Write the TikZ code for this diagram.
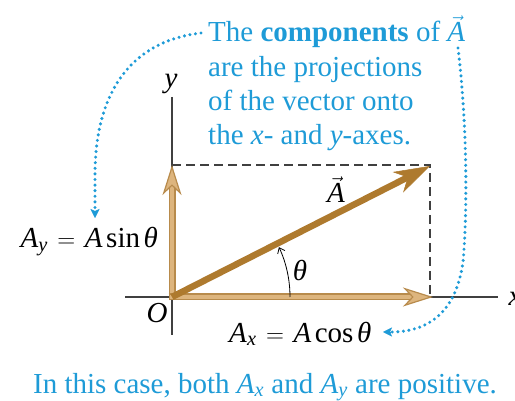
\documentclass[tikz,border=0pt]{standalone}
\usepackage{amsmath}
\usepackage{fontspec}
\setmainfont{Liberation Serif}
\usetikzlibrary{arrows.meta,calc}
\definecolor{capblue}{HTML}{1E9BD7}
\definecolor{vecbrown}{HTML}{AE7A2E}
\definecolor{tanlight}{HTML}{DDB57E}
\definecolor{tandark}{HTML}{B88B4C}
\definecolor{axisgray}{HTML}{404040}
\newcommand{\itA}{\textit{A}}
\newcommand{\eqsp}{\hspace{0.33em}$=$\hspace{0.33em}}
\tikzset{
  bigfont/.style={font=\fontsize{29}{35}\selectfont},
  bluetxt/.style={bigfont, text=capblue, inner sep=0pt},
  axisline/.style={draw=axisgray, line width=1.4pt},
  dashline/.style={draw=axisgray, line width=1.3pt, dash pattern=on 9pt off 5pt},
  dotline/.style={draw=capblue, line width=3.4pt, line cap=round, dash pattern=on 0pt off 5.6pt},
  dothead/.style={-{Stealth[length=9pt,width=9pt,inset=2pt]}},
  compshaftout/.style={draw=tandark, line width=7pt},
  compshaftin/.style={draw=tanlight, line width=4pt},
  comphead/.style={draw=tandark, line width=1.2pt, -{Stealth[length=30pt,width=19pt,inset=9pt,fill=tanlight]}},
  vecshaft/.style={draw=vecbrown, line width=6.5pt},
  vechead/.style={draw=vecbrown, fill=vecbrown, line width=0.5pt, -{Stealth[length=36pt,width=23pt,inset=11pt]}},
}
\begin{document}
\begin{tikzpicture}[x=1pt,y=-1pt]
\useasboundingbox (0,0) rectangle (515,401);
% key points
\coordinate (O) at (172,297);
\coordinate (Ytop) at (172,97);
\coordinate (Ybot) at (172,335);
\coordinate (Xl) at (125,297);
\coordinate (Xr) at (498,297);
\coordinate (Ay) at (172,165);
\coordinate (Ax) at (433,297);
\coordinate (C) at (430,165);
\coordinate (Cb) at (430,297);
\coordinate (Atip) at (430,166);
% axes
\draw[axisline] (Ytop) -- (Ybot);
\draw[axisline] (Xl) -- (Xr);
\node[bigfont, font=\fontsize{29}{35}\selectfont\itshape, anchor=base] (ylab) at (171,88) {y};
\node[bigfont, font=\fontsize{29}{35}\selectfont\itshape, anchor=base west] (xlab) at (505,306) {x};
% dashed projections
\draw[dashline] (Ay) -- (C) -- (Cb);
% components
\draw[compshaftout] ($(O)+(0,3.5)$) -- ($(Ay)+(0,20)$);
\draw[compshaftin] ($(O)+(0,2)$) -- ($(Ay)+(0,20)$);
\draw[comphead] ($(Ay)+(0,18)$) -- (Ay);
\draw[compshaftout] ($(O)+(-3.5,0)$) -- ($(Ax)+(-20,0)$);
\draw[compshaftin] ($(O)+(-2,0)$) -- ($(Ax)+(-20,0)$);
\draw[comphead] ($(Ax)+(-18,0)$) -- (Ax);
% vector A
\draw[vecshaft] (O) -- ($(Atip)!24pt!(O)$);
\draw[vechead] ($(Atip)!22pt!(O)$) -- (Atip);
\node[bigfont, anchor=base] (Alab) at (336,203) {$\vec{\itA}$};
% angle
\draw[black, line width=0.8pt, -{Straight Barb[length=5pt,width=8pt]}] ($(O)+(118,0)$) arc[start angle=0, end angle=25, radius=118pt];
\node[bigfont, anchor=base] (th) at (300,281) {\textit{θ}};
\node[bigfont, anchor=base] (Olab) at (157,323) {\textit{O}};
% component labels
\node[bigfont, anchor=base east, inner sep=0pt] (ylabel) at (158,248) {\itA$_{\textit{y}}$\eqsp\itA\hspace{0.12em}sin\hspace{0.12em}\textit{θ}};
\node[bigfont, anchor=base west, inner sep=0pt] (xlabel) at (229,342) {\itA$_{\textit{x}}$\eqsp\itA\hspace{0.12em}cos\hspace{0.12em}\textit{θ}};
% explanatory text
\node[bluetxt, anchor=base west] (t1) at (208,42) {The \textbf{components} of $\vec{\itA}$};
\node[bluetxt, anchor=base west] (t2) at (208,77) {are the projections};
\node[bluetxt, anchor=base west] (t3) at (208,111) {of the vector onto};
\node[bluetxt, anchor=base west] (t4) at (208,145) {the \textit{x}- and \textit{y}-axes.};
\coordinate (L0) at (201,33);
\coordinate (L1) at (95,218);
\coordinate (R0) at (458,48);
\coordinate (R1) at (383,332);
\draw[dotline] (L0) .. controls (125,42) and (95,100) .. (95,175) -- ($(L1)+(0,-8)$);
\draw[capblue, fill=capblue, dothead] ($(L1)+(0,-7)$) -- (L1);
\draw[dotline] (R0) .. controls (468,130) and (467,220) .. (463,262) .. controls (455,320) and (420,332) .. ($(R1)+(8,0)$);
\draw[capblue, fill=capblue, dothead] ($(R1)+(7,0)$) -- (R1);
% caption
\node[bluetxt, anchor=base] (cap) at (265,393) {In this case, both \itA$_{\textit{x}}$ and \itA$_{\textit{y}}$ are positive.};
\end{tikzpicture}
\end{document}
